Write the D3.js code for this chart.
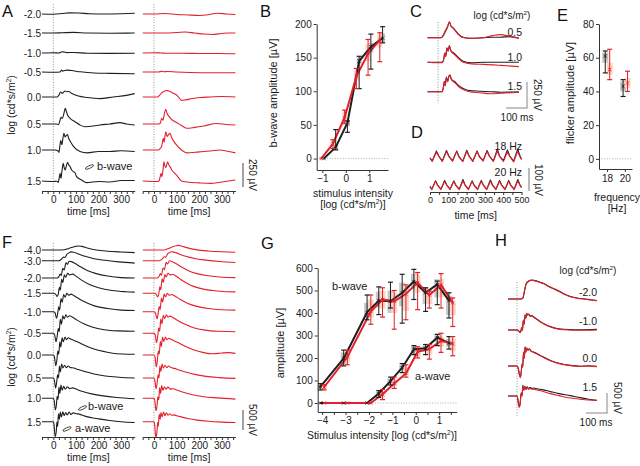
<!DOCTYPE html>
<html><head><meta charset="utf-8">
<script src="https://cdn.jsdelivr.net/npm/d3@7"></script>
<style>
html,body{margin:0;padding:0;background:#fff;}
svg{display:block;}
</style></head><body>
<svg id="fig" width="640" height="466"></svg>
<script>
// ================= DATA =================
const aLevels = ["-2.0","-1.5","-1.0","-0.5","0.0","0.5","1.0","1.5"];
const fLevels = ["-4.0","-3.0","-2.0","-1.5","-1.0","-0.5","0.0","0.5","1.0","1.5"];
const cLevels = ["0.5","1.0","1.5"];
const dLabels = ["18 Hz","20 Hz"];
const hLevels = ["-2.0","-1.0","0.0","1.5"];
const timeTicksA = [0,100,200,300];
const timeTicksD = [0,100,200,300,400,500];

// Panel A traces [time ms, µV]
const aBlack = [
 [[-50,0],[0,-2],[40,5],[70,12],[110,10],[160,3],[220,0],[300,3],[360,8]],
 [[-50,0],[0,0],[40,3],[90,6],[150,0],[250,-2],[360,0]],
 [[-50,0],[0,3],[25,0],[35,10],[45,12],[60,4],[90,5],[150,-2],[250,-4],[360,-3]],
 [[-50,0],[0,-2],[30,0],[37,20],[42,8],[50,15],[60,20],[80,15],[120,2],[180,-10],[250,-14],[360,-18]],
 [[-50,0],[0,0],[18,0],[25,20],[32,52],[40,38],[52,62],[60,55],[68,58],[80,40],[111,10],[150,-5],[206,-17],[265,0],[324,17],[360,35]],
 [[-50,0],[15,0],[22,-8],[27,14],[34,69],[40,59],[47,111],[53,163],[58,130],[63,94],[74,59],[96,24],[118,-10],[140,-28],[177,-21],[206,-10],[251,0],[295,14],[324,0],[360,-10]],
 [[-50,0],[10,0],[20,-8],[25,-25],[30,60],[33,100],[38,55],[43,130],[47,175],[52,135],[57,150],[63,160],[68,120],[74,95],[90,35],[118,-15],[150,-30],[200,-15],[250,-15],[300,-8],[360,-15]],
 [[-50,0],[0,-5],[15,-3],[22,-15],[26,30],[30,80],[34,28],[38,100],[44,184],[48,140],[52,114],[57,150],[63,194],[68,170],[74,150],[80,120],[88,97],[95,90],[103,45],[125,10],[147,-17],[200,-5],[250,-10],[300,5],[360,5]]
];
const aRed = [
 [[-50,0],[0,0],[50,5],[100,-5],[150,-10],[200,-15],[240,-8],[280,8],[320,0],[360,-5]],
 [[-50,0],[0,0],[50,0],[100,5],[140,10],[180,0],[220,-10],[260,-15],[300,-5],[330,0],[360,0]],
 [[-50,0],[0,3],[30,0],[60,-3],[120,-3],[200,-5],[280,-5],[360,-8]],
 [[-50,0],[20,0],[35,8],[45,3],[60,5],[100,0],[160,-5],[250,-8],[360,-8]],
 [[-50,0],[15,0],[25,20],[35,45],[45,60],[55,68],[65,62],[85,40],[105,10],[122,-35],[140,-30],[170,-15],[204,-5],[250,0],[300,5],[360,0]],
 [[-50,0],[20,0],[28,10],[34,60],[40,40],[46,110],[52,153],[58,110],[66,80],[74,55],[96,20],[118,-10],[145,-45],[180,-35],[220,-20],[277,5],[320,-5],[360,-10]],
 [[-50,0],[20,0],[27,15],[34,40],[41,121],[45,80],[49,150],[52,190],[58,140],[64,160],[71,173],[78,130],[85,100],[100,50],[122,0],[145,-30],[200,-20],[250,-10],[290,0],[330,-15],[360,-30]],
 [[-50,0],[15,-5],[22,0],[27,40],[31,80],[35,45],[40,120],[44,200],[49,150],[53,140],[60,200],[65,170],[71,150],[80,110],[90,85],[100,60],[122,0],[145,-10],[200,-20],[250,-25],[300,-10],[360,10]]
];

// Panel B: b-wave amplitude (µV) vs intensity
const bIntensity = [-1,-0.5,0,0.5,1,1.5];
const bBlackMean = [0,17,53,145,166,179];
const bBlackLo   = [0,13,39,104,133,172];
const bBlackHi   = [0,43,56,152,185,196];
const bBlackBoxLo= [0,12,48,140,158,172];
const bBlackBoxHi= [0,22,56,150,172,186];
const bRedMean   = [0,22,61,122,156,176];
const bRedLo     = [0,15,52,104,124,144];
const bRedHi     = [0,28,72,134,177,187];
const bRedBoxLo  = [0,18,52,116,145,165];
const bRedBoxHi  = [0,26,70,130,170,185];
const bTicksY = [0,50,100,150,200];
const bTicksX = [-1,0,1];

// Panel C traces
const cBlack = [
 [[-50,0],[0,0],[15,0],[25,20],[35,60],[45,100],[54,154],[62,110],[72,95],[81,74],[95,40],[113,10],[152,-6],[216,0],[260,5],[295,5],[340,10],[385,-6]],
 [[-50,0],[0,0],[20,0],[28,40],[32,90],[37,60],[42,140],[48,110],[54,160],[60,120],[66,100],[75,90],[95,50],[120,10],[160,-5],[220,0],[300,0],[385,0]],
 [[-50,0],[0,0],[20,0],[26,50],[30,100],[34,60],[40,140],[46,100],[52,150],[57,160],[62,130],[68,110],[78,100],[95,65],[120,30],[150,10],[200,5],[250,0],[300,-5],[385,-2]]
];
const cRed = [
 [[-50,0],[0,0],[15,0],[25,25],[35,70],[45,105],[54,150],[62,115],[72,90],[81,70],[95,35],[113,5],[152,-5],[216,0],[260,20],[295,30],[340,15],[385,-6]],
 [[-50,0],[0,-5],[20,-5],[28,35],[32,85],[37,55],[42,135],[48,105],[54,155],[60,115],[66,95],[75,80],[95,40],[120,0],[160,-15],[220,-20],[300,-30],[385,-42]],
 [[-50,0],[0,0],[20,0],[26,45],[30,95],[34,55],[40,135],[46,95],[52,145],[57,155],[62,125],[68,105],[78,90],[95,55],[120,20],[150,0],[200,-10],[250,-20],[300,-15],[385,-5]]
];

// Panel D flicker traces
const dBlack = [
 [[0,-8],[12,-22],[35,22],[48,0],[67,-22],[90,24],[103,0],[123,-21],[146,22],[158,-2],[179,-23],[201,25],[214,0],[234,-22],[257,22],[270,-2],[290,-20],[312,24],[325,0],[346,-22],[368,30],[380,0],[401,-20],[423,26],[436,0],[457,-22],[479,30],[492,0],[500,-12]],
 [[0,-6],[10,-18],[30,18],[42,0],[60,-18],[80,20],[92,0],[110,-18],[130,18],[142,-2],[160,-18],[180,24],[192,0],[210,-18],[230,18],[242,-2],[260,-18],[280,20],[292,0],[310,-18],[330,22],[342,0],[360,-18],[380,20],[392,0],[410,-18],[430,20],[442,-2],[460,-18],[480,24],[492,0],[500,-10]]
];
const dRed = [
 [[0,-10],[12,-24],[35,18],[48,-2],[67,-24],[90,20],[103,-2],[123,-23],[146,20],[158,-4],[179,-24],[201,20],[214,-2],[234,-24],[257,20],[270,-4],[290,-22],[312,20],[325,-2],[346,-24],[368,22],[380,-2],[401,-24],[423,18],[436,-2],[457,-26],[479,20],[492,-4],[500,-16]],
 [[0,-8],[10,-20],[30,16],[42,-2],[60,-20],[80,16],[92,-2],[110,-20],[130,16],[142,-3],[160,-20],[180,18],[192,-2],[210,-20],[230,16],[242,-3],[260,-20],[280,16],[292,-2],[310,-20],[330,16],[342,-2],[360,-20],[380,16],[392,-2],[410,-20],[430,16],[442,-3],[460,-20],[480,18],[492,-2],[500,-12]]
];

// Panel E: flicker amplitude
const eFreq = [18,20];
const eBlackMean = [61,43], eBlackLo = [51,37], eBlackHi = [64,47], eBlackBoxLo = [57,40], eBlackBoxHi = [63,46];
const eRedMean = [53,45], eRedLo = [47,40], eRedHi = [65,52], eRedBoxLo = [50,42], eRedBoxHi = [57,48];
const eTicksY = [0,20,40,60,80];

// Panel F traces
const fBlack = [
 [[-50,0],[0,0],[40,0],[55,15],[70,40],[85,70],[100,90],[112,100],[125,90],[150,50],[190,0],[240,-30],[300,-50],[360,-65]],
 [[-50,0],[0,0],[25,0],[35,30],[45,90],[52,80],[60,160],[68,190],[78,220],[90,210],[110,170],[140,110],[180,50],[230,10],[290,-30],[360,-60]],
 [[-50,0],[0,0],[18,0],[25,40],[30,100],[35,60],[42,240],[48,200],[56,380],[62,340],[70,420],[80,410],[95,370],[120,280],[150,190],[190,110],[240,50],[300,10],[360,0]],
 [[-50,0],[0,0],[10,-20],[17,-80],[22,-20],[27,150],[31,80],[37,350],[42,270],[49,460],[55,400],[63,500],[72,460],[85,480],[100,430],[125,330],[160,220],[200,140],[260,70],[320,40],[360,30]],
 [[-50,0],[0,0],[8,-30],[14,-165],[19,-60],[24,120],[28,40],[34,330],[39,230],[46,430],[52,360],[60,460],[68,410],[78,440],[92,400],[115,320],[145,230],[185,140],[240,80],[300,40],[360,30]],
 [[-50,0],[0,0],[6,-40],[12,-210],[17,-80],[22,120],[26,40],[31,350],[36,230],[42,440],[48,360],[56,460],[63,400],[72,440],[85,400],[105,330],[135,240],[175,150],[225,90],[290,60],[360,50]],
 [[-50,0],[0,0],[5,-50],[11,-270],[16,-120],[20,100],[24,20],[29,330],[33,200],[39,430],[44,330],[52,450],[58,380],[66,430],[76,400],[90,370],[110,320],[140,240],[180,150],[230,80],[280,30],[330,20],[360,20]],
 [[-50,0],[0,0],[5,-60],[10,-250],[15,-100],[19,80],[23,0],[27,300],[31,150],[37,350],[42,250],[50,320],[57,260],[66,300],[76,260],[90,250],[110,210],[140,160],[180,100],[230,50],[290,20],[360,0]],
 [[-50,0],[0,0],[4,-60],[9,-290],[14,-150],[17,50],[21,-30],[25,280],[29,120],[34,330],[39,200],[46,300],[53,230],[62,290],[72,240],[85,260],[100,230],[130,170],[170,110],[220,60],[280,20],[360,-10]],
 [[-50,0],[0,0],[3,-60],[8,-370],[13,-250],[16,-10],[19,-120],[23,200],[27,60],[31,240],[36,120],[42,250],[48,150],[55,230],[62,170],[70,240],[78,180],[88,220],[100,200],[115,190],[140,140],[170,100],[200,70],[250,30],[300,0],[360,-20]]
];
const fRed = [
 [[-50,0],[0,0],[40,0],[55,20],[70,50],[85,85],[98,105],[108,115],[120,100],[145,60],[185,10],[240,-25],[300,-45],[360,-55]],
 [[-50,0],[0,0],[25,0],[35,35],[45,100],[52,90],[60,170],[68,200],[76,225],[88,215],[108,175],[140,110],[180,55],[230,15],[290,-20],[360,-45]],
 [[-50,0],[0,0],[16,0],[23,50],[28,110],[33,70],[40,250],[46,210],[54,390],[60,350],[68,430],[78,415],[95,370],[120,280],[150,190],[190,110],[240,55],[300,20],[360,10]],
 [[-50,0],[0,0],[10,-25],[16,-90],[21,-20],[26,160],[30,90],[36,360],[41,280],[48,470],[54,410],[62,500],[71,460],[84,470],[100,420],[125,320],[160,210],[200,130],[260,70],[320,40],[360,35]],
 [[-50,0],[0,0],[7,-40],[13,-180],[18,-60],[23,130],[27,50],[33,340],[38,240],[45,440],[51,370],[59,460],[67,410],[77,430],[92,390],[115,310],[145,220],[185,140],[240,80],[300,50],[360,40]],
 [[-50,0],[0,0],[6,-50],[11,-230],[16,-90],[21,130],[25,50],[30,360],[35,240],[41,450],[47,370],[55,460],[62,400],[71,430],[85,390],[105,320],[135,230],[175,140],[225,80],[290,50],[360,40]],
 [[-50,0],[0,0],[5,-60],[10,-290],[15,-130],[19,100],[23,20],[28,340],[32,210],[38,440],[43,340],[51,450],[57,380],[65,420],[76,390],[90,350],[110,300],[140,210],[180,120],[220,60],[260,30],[300,50],[330,60],[360,40]],
 [[-50,0],[0,0],[4,-70],[9,-270],[14,-110],[18,80],[22,0],[26,300],[30,160],[36,350],[41,250],[49,320],[56,260],[65,300],[75,260],[90,240],[110,200],[140,150],[180,90],[230,40],[290,10],[360,-10]],
 [[-50,0],[0,0],[4,-70],[9,-310],[14,-160],[17,40],[21,-40],[25,270],[29,120],[34,320],[39,200],[46,290],[53,230],[62,280],[72,230],[85,240],[100,210],[130,150],[170,90],[220,40],[280,10],[360,-20]],
 [[-50,0],[0,0],[3,-80],[8,-390],[13,-260],[16,-20],[19,-120],[23,190],[27,60],[31,230],[36,120],[42,240],[48,150],[55,220],[62,160],[70,200],[78,160],[88,170],[100,150],[120,120],[150,80],[190,40],[240,10],[300,-10],[360,-20]]
];

// Panel G: amplitudes vs intensity
const gIntensity = [-4,-3,-2,-1.5,-1,-0.5,0,0.5,1,1.5];
const gBBlackMean = [72,198,403,455,452,490,540,490,527,455];
const gBBlackLo   = [58,165,370,393,422,355,460,407,437,378];
const gBBlackHi   = [86,235,480,516,537,572,594,512,542,490];
const gBBlackBoxLo= [62,172,380,425,400,430,505,440,470,390];
const gBBlackBoxHi= [80,225,445,495,500,535,575,515,550,475];
const gBRedMean   = [70,205,407,460,452,485,535,480,525,445];
const gBRedLo     = [58,170,350,382,328,370,415,422,422,340];
const gBRedHi     = [82,235,480,512,500,525,580,497,575,467];
const gBRedBoxLo  = [60,180,380,420,400,410,490,440,470,390];
const gBRedBoxHi  = [80,230,460,500,490,520,570,500,550,450];
const gABlackMean = [0,0,0,42,97,157,239,243,291,266];
const gABlackLo   = [0,0,0,25,80,135,215,215,255,240];
const gABlackHi   = [0,0,0,55,115,175,255,260,305,295];
const gABlackBoxLo= [0,0,0,30,85,145,225,228,270,250];
const gABlackBoxHi= [0,0,0,50,108,168,250,255,300,285];
const gARedMean   = [0,0,0,39,87,131,228,240,276,263];
const gARedLo     = [0,0,0,15,65,115,200,195,225,210];
const gARedHi     = [0,0,0,60,115,170,250,260,310,295];
const gARedBoxLo  = [0,0,0,25,75,125,205,215,250,230];
const gARedBoxHi  = [0,0,0,50,105,160,245,255,295,285];
const gTicksY = [0,100,200,300,400,500,600];
const gTicksX = [-4,-3,-2,-1,0,1];

// Panel H traces
const hBlack = [
 [[-43,0],[0,0],[20,0],[28,20],[32,100],[36,200],[40,310],[44,380],[48,410],[55,440],[62,465],[70,475],[80,470],[95,450],[110,420],[127,390],[150,320],[170,270],[190,225],[220,140],[254,60],[290,20],[317,5],[350,-20],[380,-40]],
 [[-43,0],[0,0],[8,-20],[14,-60],[18,-30],[22,60],[26,0],[30,250],[34,150],[38,380],[42,300],[46,420],[50,380],[56,400],[62,350],[70,360],[79,330],[95,270],[111,210],[135,140],[159,85],[180,50],[206,25],[250,10],[300,5],[380,15]],
 [[-43,0],[0,0],[6,-60],[12,-220],[16,-275],[20,-150],[24,50],[27,-20],[31,350],[35,200],[38,480],[42,350],[46,450],[52,400],[58,430],[66,380],[79,350],[95,310],[120,240],[159,140],[200,70],[254,15],[300,-5],[340,5],[380,-10]],
 [[-43,0],[0,0],[4,-80],[8,-230],[12,-260],[16,-120],[20,80],[24,10],[28,265],[32,150],[37,240],[42,170],[48,230],[55,180],[62,220],[70,190],[80,200],[95,180],[120,160],[159,110],[200,60],[254,10],[300,-40],[340,-80],[380,-110]]
];
const hRed = [
 [[-43,0],[0,0],[20,0],[28,30],[32,120],[36,230],[40,320],[44,390],[48,420],[55,450],[62,470],[70,470],[80,460],[95,440],[110,410],[127,380],[150,310],[170,260],[190,215],[220,130],[254,55],[290,15],[317,0],[350,-25],[380,-40]],
 [[-43,0],[0,0],[8,-25],[14,-70],[18,-35],[22,50],[26,-10],[30,240],[34,140],[38,370],[42,290],[46,410],[50,370],[56,390],[62,340],[70,350],[79,320],[95,260],[111,200],[135,130],[159,75],[180,40],[206,15],[250,0],[300,-5],[380,0]],
 [[-43,0],[0,0],[6,-70],[12,-240],[16,-290],[20,-160],[24,40],[27,-30],[31,340],[35,190],[38,470],[42,340],[46,440],[52,390],[58,420],[66,370],[79,340],[95,300],[120,230],[159,130],[200,60],[254,10],[300,-10],[340,-5],[380,-15]],
 [[-43,0],[0,0],[4,-90],[8,-250],[12,-280],[16,-130],[20,70],[24,0],[28,255],[32,140],[37,230],[42,160],[48,210],[55,170],[62,190],[70,170],[80,170],[95,150],[120,120],[159,60],[200,10],[254,-50],[300,-80],[340,-100],[380,-110]]
];

// ================= DRAWING =================
const FONT = '"Liberation Sans", Arial, Helvetica, sans-serif';
const BLACK = "#1e1e1e", RED = "#e3202b", GREYBOX = "#c8c8c8", PINKBOX = "#fcd5c4", AXC = "#333";
const svg = d3.select("#fig").attr("font-family", FONT);
svg.append("rect").attr("width",640).attr("height",466).attr("fill","#fff");

function text(x, y, s, o = {}) {
  const t = svg.append("text").attr("x", x).attr("y", y)
    .attr("font-size", o.size || 10.5).attr("fill", o.fill || "#1a1a1a")
    .attr("text-anchor", o.anchor || "start");
  if (o.rotate !== undefined) t.attr("transform", `rotate(${o.rotate},${x},${y})`);
  if (o.sup) {
    t.append("tspan").text(s);
    t.append("tspan").attr("font-size", (o.size || 10.5) * 0.62).attr("dy", -4).text(o.sup);
    t.append("tspan").attr("dy", 4).text(o.after || "");
  } else t.text(s);
  return t;
}
function logLabel(x, y, o = {}) { return text(x, y, "log (cd*s/m", Object.assign({sup: "2", after: ")"}, o)); }
function letter(x, y, s) { text(x, y, s, {size: 16.5, fill: "#111"}); }

function styleAxis(g, fs) {
  g.attr("font-family", FONT);
  g.select(".domain").attr("stroke", AXC).attr("stroke-width", 1);
  g.selectAll(".tick line").attr("stroke", AXC);
  g.selectAll(".tick text").attr("font-size", fs || 10).attr("fill", "#1a1a1a").attr("font-family", FONT);
}

function timeAxis(xs, y, step, labels, fs) {
  const d = xs.domain();
  const vals = d3.range(Math.ceil(d[0] / step) * step, d[1] + 0.1, step);
  const g = svg.append("g").attr("transform", `translate(0,${y})`)
    .call(d3.axisBottom(xs).tickValues(vals).tickSize(3).tickSizeOuter(0).tickPadding(2)
      .tickFormat(v => labels.includes(v) ? v : ""));
  styleAxis(g, fs);
}

function drawTraces(traces, xs, bases, barUV, barPx, color, curve) {
  traces.forEach((tr, i) => {
    const ys = d3.scaleLinear().domain([0, barUV]).range([bases[i], bases[i] - barPx]);
    const line = d3.line().x(p => xs(p[0])).y(p => ys(p[1])).curve(curve || d3.curveMonotoneX);
    svg.append("path").attr("d", line(tr)).attr("fill", "none").attr("stroke", color)
      .attr("stroke-width", 1.1).attr("stroke-linejoin", "round");
  });
}
function vDotted(x, y1, y2) {
  svg.append("line").attr("x1", x).attr("x2", x).attr("y1", y1).attr("y2", y2)
    .attr("stroke", "#777").attr("stroke-width", 0.8).attr("stroke-dasharray", "1,1.6");
}
function hDotted(x1, x2, y) {
  svg.append("line").attr("x1", x1).attr("x2", x2).attr("y1", y).attr("y2", y)
    .attr("stroke", "#999").attr("stroke-width", 0.8).attr("stroke-dasharray", "1,1.6");
}
function seg(x1, y1, x2, y2, c, w) {
  svg.append("line").attr("x1", x1).attr("y1", y1).attr("x2", x2).attr("y2", y2)
    .attr("stroke", c || "#555").attr("stroke-width", w || 1);
}
function pointer(cx, cy, rot) {
  svg.append("ellipse").attr("cx", cx).attr("cy", cy).attr("rx", 4.5).attr("ry", 1.3)
    .attr("transform", `rotate(${rot},${cx},${cy})`).attr("fill", "none").attr("stroke", "#333").attr("stroke-width", 0.8);
}

// errorbar series
function errSeries(layer, xs, ys, X, S, dx, color, boxColor, boxW, noLine) {
  const pts = X.map((x, i) => ({x: xs(x + dx), m: ys(S.mean[i]), lo: ys(S.lo[i]), hi: ys(S.hi[i]), bl: ys(S.bl[i]), bh: ys(S.bh[i])}));
  pts.forEach(p => {
    if (p.bl - p.bh > 0.5)
      layer.box.append("rect").attr("x", p.x - boxW / 2).attr("y", p.bh).attr("width", boxW)
        .attr("height", p.bl - p.bh).attr("fill", boxColor);
  });
  if (!noLine)
    layer.line.append("path").attr("d", d3.line().x(p => p.x).y(p => p.m)(pts))
      .attr("fill", "none").attr("stroke", color).attr("stroke-width", 2).attr("stroke-linejoin", "round");
  pts.forEach(p => {
    if (p.lo - p.hi > 0.5) {
      layer.err.append("line").attr("x1", p.x).attr("x2", p.x).attr("y1", p.lo).attr("y2", p.hi).attr("stroke", color).attr("stroke-width", 1);
      [p.lo, p.hi].forEach(yy => layer.err.append("line").attr("x1", p.x - 2.5).attr("x2", p.x + 2.5)
        .attr("y1", yy).attr("y2", yy).attr("stroke", color).attr("stroke-width", 1.2));
    }
    const s = 1.6;
    layer.err.append("path").attr("d", `M${p.x - s},${p.m - s}L${p.x + s},${p.m + s}M${p.x - s},${p.m + s}L${p.x + s},${p.m - s}`)
      .attr("stroke", color).attr("stroke-width", 0.9);
  });
}
function layers() {
  const g = svg.append("g");
  return {box: g.append("g"), line: g.append("g"), err: g.append("g")};
}

// ---------- Panel A ----------
letter(2, 17, "A");
const aBase = [14, 33, 53, 72, 97, 124, 150, 181];
const xAL = d3.scaleLinear().domain([-50, 360]).range([42, 134.7]);
const xAR = d3.scaleLinear().domain([-50, 360]).range([142.7, 235.4]);
vDotted(xAL(0), 4, 190); vDotted(xAR(0), 4, 190);
drawTraces(aBlack, xAL, aBase, 250, 24, BLACK);
drawTraces(aRed, xAR, aBase, 250, 24, RED);
aLevels.forEach((l, i) => text(41, aBase[i] + 4, l, {anchor: "end", size: 10}));
logLabel(15, 105, {rotate: -90, anchor: "middle"});
timeAxis(xAL, 191, 25, timeTicksA); timeAxis(xAR, 191, 25, timeTicksA);
text((42 + 134.7) / 2, 215, "time [ms]", {anchor: "middle"});
text((142.7 + 235.4) / 2, 215, "time [ms]", {anchor: "middle"});
seg(243, 163, 243, 187, "#444", 1);
text(249, 175, "250 µV", {rotate: 90, anchor: "middle", size: 10});
text(97, 170, "b-wave", {size: 11});
pointer(89.5, 167, -25);

// ---------- Panel B ----------
letter(260, 17, "B");
const xB = d3.scaleLinear().domain([-1.24, 1.8]).range([316.7, 388]);
const yB = d3.scaleLinear().domain([-17, 200]).range([170, 24]);
hDotted(xB(-1.24), xB(1.8), yB(0));
{
  const L = layers();
  errSeries(L, xB, yB, bIntensity, {mean: bBlackMean, lo: bBlackLo, hi: bBlackHi, bl: bBlackBoxLo, bh: bBlackBoxHi}, 0.07, BLACK, GREYBOX, 5);
  errSeries(L, xB, yB, bIntensity, {mean: bRedMean, lo: bRedLo, hi: bRedHi, bl: bRedBoxLo, bh: bRedBoxHi}, -0.05, RED, PINKBOX, 5);
}
styleAxis(svg.append("g").attr("transform", "translate(316.7,0)").call(d3.axisLeft(yB).tickValues(bTicksY).tickSize(3).tickSizeOuter(0).tickPadding(2)));
styleAxis(svg.append("g").attr("transform", "translate(0,170)").call(d3.axisBottom(xB).tickValues(bTicksX).tickSize(3).tickSizeOuter(0).tickPadding(2).tickFormat(d3.format("d"))));
text(277, 93, "b-wave amplitude [µV]", {rotate: -90, anchor: "middle", size: 11});
text(353, 197, "stimulus intensity", {anchor: "middle", size: 10.5});
text(353, 208, "[log (cd*s/m", {anchor: "middle", size: 10.5, sup: "2", after: ")]"});

// ---------- Panel C ----------
letter(410, 17, "C");
logLabel(502, 19, {anchor: "middle", size: 10});
const xC = d3.scaleLinear().domain([-50, 385]).range([427.5, 518.9]);
const cBase = [37.7, 62.3, 91.7];
vDotted(xC(0), 22, 103);
drawTraces(cBlack, xC, cBase, 250, 26, BLACK);
drawTraces(cRed, xC, cBase, 250, 26, RED);
cLevels.forEach((l, i) => text(522, [36, 60.5, 90][i], l, {anchor: "end", size: 10.5}));
seg(527, 82, 527, 108, "#888"); seg(506, 108, 527.5, 108, "#888");
text(517, 121, "100 ms", {anchor: "middle", size: 10});
text(534, 95, "250 µV", {rotate: 90, anchor: "middle", size: 10});

// ---------- Panel D ----------
letter(411, 138, "D");
const xD = d3.scaleLinear().domain([0, 500]).range([430, 521.5]);
const dBase = [156, 185];
drawTraces(dBlack, xD, dBase, 100, 23, BLACK, d3.curveLinear);
drawTraces(dRed, xD, dBase, 100, 23, RED, d3.curveLinear);
dLabels.forEach((l, i) => text(522, [150, 176][i], l, {anchor: "end", size: 10.5}));
timeAxis(xD, 192, 50, timeTicksD, 9);
text(475.7, 219, "time [ms]", {anchor: "middle"});
seg(529, 168, 529, 191, "#777");
text(535, 180, "100 µV", {rotate: 90, anchor: "middle", size: 10});

// ---------- Panel E ----------
letter(557, 21, "E");
const xE = d3.scaleLinear().domain([17.1, 20.8]).range([599, 632]);
const yE = d3.scaleLinear().domain([-6, 80]).range([169, 24]);
hDotted(599, 632, yE(0));
{
  const L = layers();
  errSeries(L, xE, yE, eFreq, {mean: eBlackMean, lo: eBlackLo, hi: eBlackHi, bl: eBlackBoxLo, bh: eBlackBoxHi}, -0.2, BLACK, GREYBOX, 6, true);
  errSeries(L, xE, yE, eFreq, {mean: eRedMean, lo: eRedLo, hi: eRedHi, bl: eRedBoxLo, bh: eRedBoxHi}, 0.3, RED, PINKBOX, 6, true);
}
styleAxis(svg.append("g").attr("transform", "translate(599,0)").call(d3.axisLeft(yE).tickValues(eTicksY).tickSize(3).tickSizeOuter(0).tickPadding(2)));
styleAxis(svg.append("g").attr("transform", "translate(0,169)").call(d3.axisBottom(xE).tickValues(eFreq).tickSize(3).tickSizeOuter(0).tickPadding(3).tickFormat(d3.format("d"))));
text(574, 93, "flicker amplitude [µV]", {rotate: -90, anchor: "middle", size: 11});
text(617, 201, "frequency", {anchor: "middle", size: 10.5});
text(617, 212, "[Hz]", {anchor: "middle", size: 10.5});

// ---------- Panel F ----------
letter(2, 248, "F");
const fBase = [250, 260.7, 278, 293.3, 311.7, 333.3, 355, 378, 398.3, 421.7];
vDotted(xAL(0), 243, 436); vDotted(xAR(0), 243, 436);
drawTraces(fBlack, xAL, fBase, 500, 20, BLACK);
drawTraces(fRed, xAR, fBase, 500, 20, RED);
fLevels.forEach((l, i) => text(41, fBase[i] + 4, l, {anchor: "end", size: 10}));
logLabel(15, 357, {rotate: -90, anchor: "middle"});
timeAxis(xAL, 437, 25, timeTicksA); timeAxis(xAR, 437, 25, timeTicksA);
text((42 + 134.7) / 2, 461, "time [ms]", {anchor: "middle"});
text((142.7 + 235.4) / 2, 461, "time [ms]", {anchor: "middle"});
seg(243, 410, 243, 430, "#444", 1);
text(249, 420, "500 µV", {rotate: 90, anchor: "middle", size: 10});
text(88, 410, "b-wave", {size: 11});
pointer(82.5, 408, -25);
text(75, 432, "a-wave", {size: 11});
pointer(67, 429, -25);

// ---------- Panel G ----------
letter(261, 249, "G");
const xG = d3.scaleLinear().domain([-4.19, 1.75]).range([317.7, 456.7]);
const yG = d3.scaleLinear().domain([-40, 600]).range([412, 268]);
hDotted(317.7, 456.7, yG(0));
{
  const L = layers();
  errSeries(L, xG, yG, gIntensity, {mean: gBBlackMean, lo: gBBlackLo, hi: gBBlackHi, bl: gBBlackBoxLo, bh: gBBlackBoxHi}, -0.08, BLACK, GREYBOX, 6);
  errSeries(L, xG, yG, gIntensity, {mean: gABlackMean, lo: gABlackLo, hi: gABlackHi, bl: gABlackBoxLo, bh: gABlackBoxHi}, -0.08, BLACK, GREYBOX, 6);
  errSeries(L, xG, yG, gIntensity, {mean: gBRedMean, lo: gBRedLo, hi: gBRedHi, bl: gBRedBoxLo, bh: gBRedBoxHi}, 0.08, RED, PINKBOX, 6);
  errSeries(L, xG, yG, gIntensity, {mean: gARedMean, lo: gARedLo, hi: gARedHi, bl: gARedBoxLo, bh: gARedBoxHi}, 0.08, RED, PINKBOX, 6);
}
styleAxis(svg.append("g").attr("transform", "translate(317.7,0)").call(d3.axisLeft(yG).tickValues(gTicksY).tickSize(3).tickSizeOuter(0).tickPadding(2)));
{
  const minor = d3.range(-4, 1.6, 0.5);
  styleAxis(svg.append("g").attr("transform", "translate(0,412)").call(d3.axisBottom(xG).tickValues(minor).tickSize(3).tickSizeOuter(0).tickPadding(2)
    .tickFormat(v => gTicksX.includes(v) ? d3.format("d")(v) : "")));
}
text(284, 343, "amplitude [µV]", {rotate: -90, anchor: "middle", size: 11});
text(382, 439, "Stimulus intensity [log (cd*s/m", {anchor: "middle", size: 10.5, sup: "2", after: ")]"});
text(332, 290, "b-wave", {size: 11});
text(415, 380, "a-wave", {size: 11});

// ---------- Panel H ----------
letter(495, 246, "H");
logLabel(588, 274, {anchor: "middle", size: 10});
const xH = d3.scaleLinear().domain([-43, 380]).range([508, 596.8]);
const hBase = [299, 330, 366, 396];
vDotted(xH(0), 282, 417);
drawTraces(hBlack, xH, hBase, 500, 20, BLACK);
drawTraces(hRed, xH, hBase, 500, 20, RED);
hLevels.forEach((l, i) => text(597, [295.5, 325, 362, 391][i], l, {anchor: "end", size: 10.5}));
seg(607, 393, 607, 413, "#888"); seg(586, 413, 607.5, 413, "#888");
text(596, 426, "100 ms", {anchor: "middle", size: 10});
text(614, 398, "500 µV", {rotate: 90, anchor: "middle", size: 10});
</script></body></html>
